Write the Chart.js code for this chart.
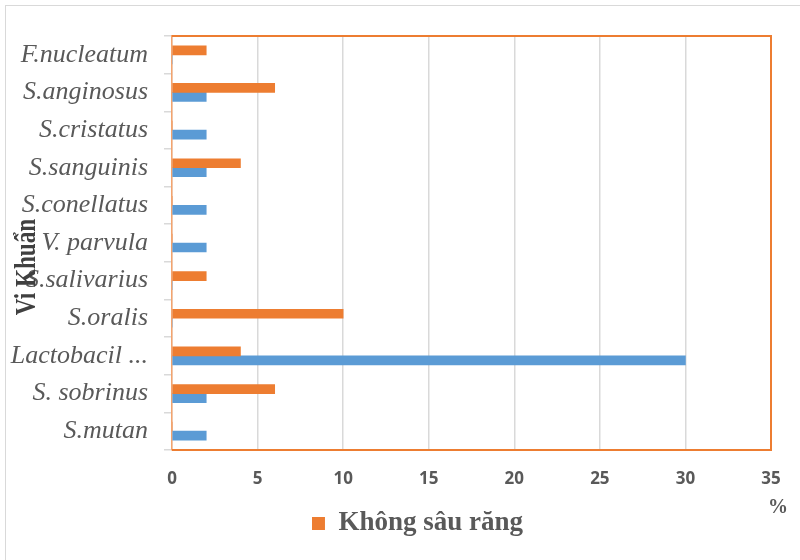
<!DOCTYPE html>
<html>
<head>
<meta charset="utf-8">
<script src="https://cdn.jsdelivr.net/npm/chart.js@4"></script>
<style>
  html, body { margin: 0; padding: 0; background: #fff; overflow: hidden; }
  #wrap { position: relative; width: 800px; height: 560px; overflow: hidden; }
  #frame { position: absolute; left: 5px; top: 5px; width: 900px; height: 700px; border: 1px solid #d9d9d9; }
  canvas { position: absolute; left: 0; top: 0; }
</style>
</head>
<body>
<div id="wrap">
  <div id="frame"></div>
  <canvas id="chart" width="800" height="560"></canvas>
</div>
<script>
"use strict";

// categories listed top to bottom as in the picture
const BACTERIA = [
  "F.nucleatum", "S.anginosus", "S.cristatus", "S.sanguinis", "S.conellatus",
  "V. parvula", "S.salivarius", "S.oralis", "Lactobacil ...", "S. sobrinus", "S.mutan",
];
const NO_CARIES = [2, 6, 0, 4, 0, 0, 2, 10, 4, 6, 0];   // Không sâu răng (%)
const CARIES    = [0, 2, 2, 2, 2, 2, 0, 0, 30, 2, 2];   // Sâu răng (%)
const X_MIN = 0, X_MAX = 35, X_STEP = 5;

const ORANGE = "#ed7d31";
const BLUE = "#5b9bd5";
const GREY_TEXT = "#595959";

const frameAndLabels = {
  id: "frameAndLabels",
  afterLayout(chart) {
    // legend sits a bit right of the canvas centre in the original
    chart.legend.left += 32;
    chart.legend.right += 32;
  },
  afterDraw(chart) {
    const { ctx, chartArea: a } = chart;
    ctx.save();
    ctx.strokeStyle = ORANGE;
    ctx.lineWidth = 2;
    ctx.beginPath();
    ctx.moveTo(a.left, a.top);
    ctx.lineTo(a.right, a.top);
    ctx.lineTo(a.right, a.bottom);
    ctx.lineTo(a.left, a.bottom);
    ctx.stroke();

    // axis title, narrow and tall like the original
    ctx.fillStyle = "#404040";
    ctx.font = "bold 29px 'Liberation Serif'";
    ctx.textAlign = "center";
    ctx.textBaseline = "middle";
    ctx.translate(28, 267);
    ctx.rotate(-Math.PI / 2);
    ctx.scale(0.8, 1);
    ctx.fillText("Vi Khuẩn", 0, 0);
    ctx.restore();

    ctx.save();
    ctx.fillStyle = GREY_TEXT;
    ctx.font = "bold 20px 'Liberation Serif'";
    ctx.textAlign = "center";
    ctx.textBaseline = "middle";
    ctx.fillText("%", a.right + 7, 508);
    ctx.restore();
  },
};

new Chart(document.getElementById("chart"), {
  type: "bar",
  data: {
    labels: BACTERIA,
    datasets: [
      { label: "Không sâu răng", data: NO_CARIES, backgroundColor: ORANGE, barThickness: 9 },
      { label: "Sâu răng", data: CARIES, backgroundColor: BLUE, barThickness: 9 },
    ],
  },
  options: {
    indexAxis: "y",
    responsive: false,
    animation: false,
    layout: { padding: { left: 0, right: 29, top: 36, bottom: 13 } },
    scales: {
      x: {
        min: X_MIN,
        max: X_MAX,
        ticks: {
          stepSize: X_STEP,
          padding: 19,
          color: GREY_TEXT,
          font: { family: "'Open Sans'", size: 17, weight: "bold" },
        },
        grid: { color: "#d9d9d9", lineWidth: 1.5, drawTicks: false },
        border: { display: false },
        afterFit(scale) { scale.height = 50; },
      },
      y: {
        ticks: {
          padding: 16,
          color: GREY_TEXT,
          font: { family: "'Liberation Serif'", size: 26, style: "italic" },
        },
        grid: { drawOnChartArea: false, color: "#d9d9d9", tickLength: 8, lineWidth: 1.5 },
        border: { color: "#f4a46e", width: 1.5 },
        afterFit(scale) { scale.width = 172; },
      },
    },
    plugins: {
      legend: {
        position: "bottom",
        labels: {
          filter: item => item.datasetIndex === 0,
          boxWidth: 13,
          boxHeight: 13,
          color: GREY_TEXT,
          font: { family: "'Liberation Serif'", size: 27, weight: "bold" },
        },
      },
      tooltip: { enabled: false },
    },
  },
  plugins: [frameAndLabels],
});
</script>
</body>
</html>
